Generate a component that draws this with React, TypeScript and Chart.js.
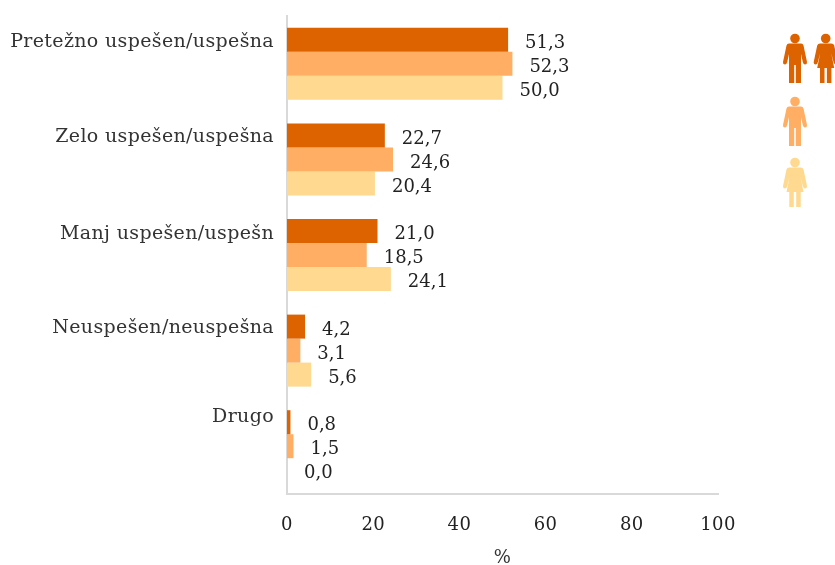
import React, { useEffect, useRef } from "react";
import { Chart, registerables } from "chart.js";

Chart.register(...registerables);

const categories = [
  "Pretežno uspešen/uspešna",
  "Zelo uspešen/uspešna",
  "Manj uspešen/uspešn",
  "Neuspešen/neuspešna",
  "Drugo",
];
const skupaj = [51.3, 22.7, 21.0, 4.2, 0.8];
const moski = [52.3, 24.6, 18.5, 3.1, 1.5];
const zenske = [50.0, 20.4, 24.1, 5.6, 0.0];

const DARK = "#DD6200";
const MID = "#FFAE64";
const LIGHT = "#FFD98F";
const FONT = "'DejaVu Serif', serif";
const TEXT = "#333333";
const categoryLabelShift = [-22, -22, -21, -23, -29];

const shiftCategoryLabels = {
  id: "shiftCategoryLabels",
  beforeDraw(chart: any) {
    (chart.ctx as any).letterSpacing = "0.35px";
    const scale = chart.scales.y;
    const items = scale.getLabelItems(chart.chartArea);
    items.forEach((item: any, i: number) => {
      if (!item.__shifted) {
        item.options.translation[1] += categoryLabelShift[i];
        item.__shifted = true;
      }
    });
  },
};

const valueLabels = {
  id: "valueLabels",
  afterDatasetsDraw(chart: any) {
    const { ctx } = chart;
    ctx.save();
    (ctx as any).letterSpacing = "0px";
    ctx.font = `18px ${FONT}`;
    ctx.fillStyle = "#222222";
    ctx.textAlign = "left";
    ctx.textBaseline = "middle";
    chart.data.datasets.forEach((ds: any, d: number) => {
      chart.getDatasetMeta(d).data.forEach((bar: any, i: number) => {
        const text = ds.data[i].toFixed(1).replace(".", ",");
        ctx.fillText(text, bar.x + 17, bar.y + 3.5);
      });
    });
    ctx.restore();
  },
};

const MAN =
  "M6 9.500 H18 Q20 9.500 20.500 11.500 L24 28 Q24.200 30.500 22 30.500 Q20.500 30.500 19.800 28 L18 20 V49 H12.800 V31 H11.200 V49 H6 V20 L4.200 28 Q3.500 30.500 2 30.500 Q-0.200 30.500 0 28 L3.500 11.500 Q4 9.500 6 9.500 Z";
const WOMAN =
  "M6.500 9.500 H17.500 Q20 9.500 20.500 11.500 L24 28 Q24.200 30.500 22 30.500 Q20.500 30.500 19.800 28 L17.500 19 L20.500 34 H17.700 V49 H13.200 V34 H10.800 V49 H6.300 V34 H3.500 L6.500 19 L4.200 28 Q3.500 30.500 2 30.500 Q-0.200 30.500 0 28 L3.500 11.500 Q4 9.500 6.500 9.500 Z";

function Person({ x, y, color, d }: { x: number; y: number; color: string; d: string }) {
  return (
    <g transform={`translate(${x} ${y})`} fill={color}>
      <circle cx="12" cy="4.500" r="4.800" />
      <path d={d} />
    </g>
  );
}

export default function App() {
  const ref = useRef<HTMLCanvasElement>(null);
  useEffect(() => {
    const chart = new Chart(ref.current as HTMLCanvasElement, {
      type: "bar",
      data: {
        labels: categories,
        datasets: [
          { data: skupaj, backgroundColor: DARK },
          { data: moski, backgroundColor: MID },
          { data: zenske, backgroundColor: LIGHT },
        ],
      },
      options: {
        indexAxis: "y",
        animation: false,
        responsive: false,
        layout: { autoPadding: false, padding: { top: 16, right: 117, left: 0, bottom: 0 } },
        datasets: { bar: { categoryPercentage: 0.753, barPercentage: 1, borderWidth: 0 } },
        plugins: { legend: { display: false }, tooltip: { enabled: false } },
        scales: {
          x: {
            min: 0,
            max: 100,
            afterFit: (s: any) => { s.height = 71; s.paddingLeft = 0; s.paddingRight = 0; },
            grid: { display: false, drawTicks: false },
            border: { display: true, color: "#D9D9D9", width: 2 },
            ticks: { stepSize: 20, color: "#222222", font: { family: FONT, size: 18 }, padding: 21, maxRotation: 0 },
            title: { display: true, text: "%", color: TEXT, font: { family: FONT, size: 18 }, padding: { top: 12, bottom: -4 } },
          },
          y: {
            afterFit: (s: any) => { s.width = 287; s.paddingTop = 0; s.paddingBottom = 0; },
            grid: { display: false, drawTicks: false },
            border: { display: true, color: "#D9D9D9", width: 2 },
            ticks: { color: TEXT, font: { family: FONT, size: 19 }, padding: 13 },
          },
        },
      } as any,
      plugins: [shiftCategoryLabels, valueLabels],
    });
    return () => chart.destroy();
  }, []);
  return (
    <div style={{ position: "absolute", left: 0, top: 0, width: 835, height: 565 }}>
      <canvas ref={ref} width={835} height={565} style={{ display: "block" }} />
      <svg width={835} height={565} style={{ position: "absolute", left: 0, top: 0, pointerEvents: "none" }}>
        <Person x={783} y={34} color={DARK} d={MAN} />
        <Person x={813.700} y={34} color={DARK} d={WOMAN} />
        <Person x={783} y={97} color={MID} d={MAN} />
        <Person x={783} y={158} color={LIGHT} d={WOMAN} />
      </svg>
    </div>
  );
}
